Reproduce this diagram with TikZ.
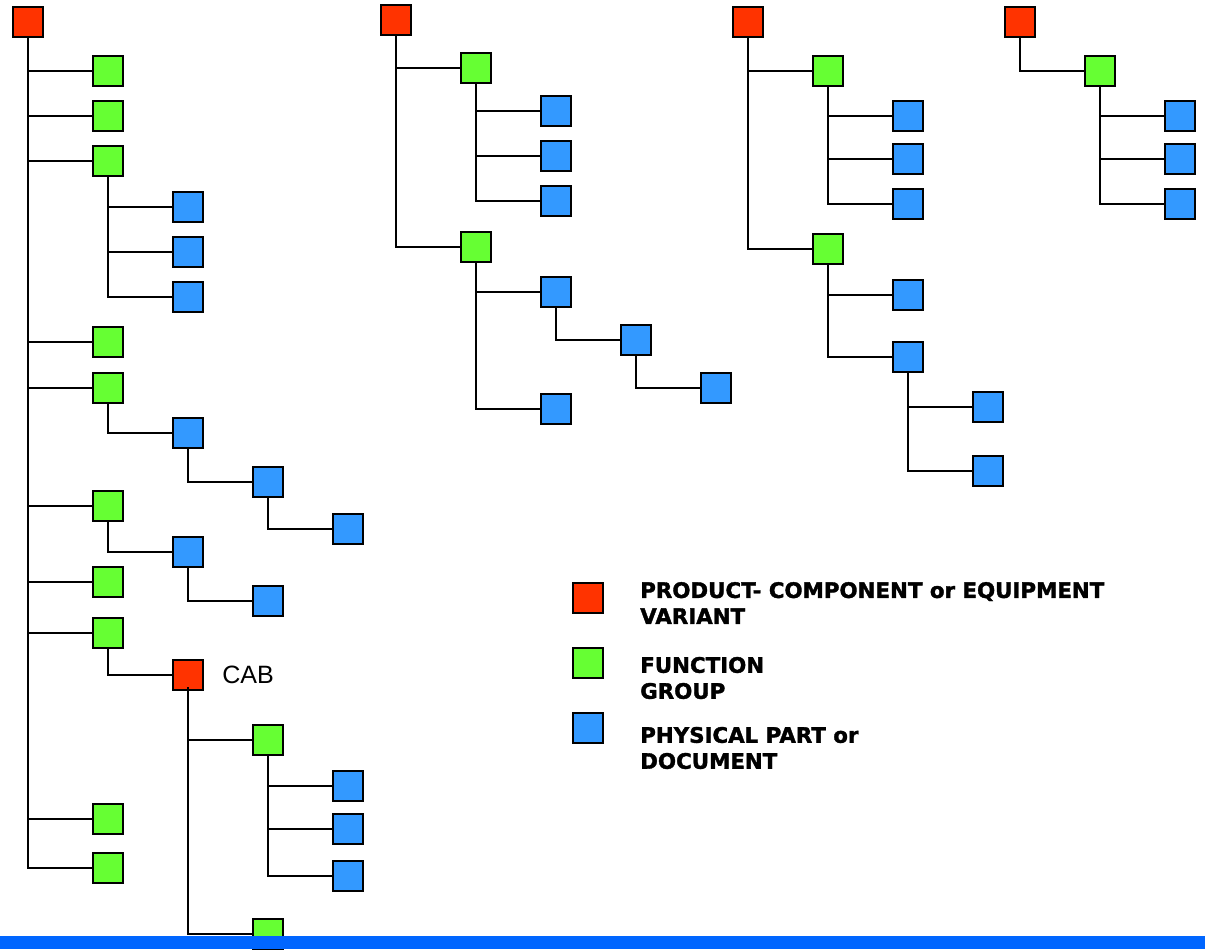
\documentclass[tikz,border=0pt]{standalone}
\usepackage{fontspec}
\setmainfont{Liberation Sans}
\newfontfamily\legendfont{DejaVu Sans}[BoldFeatures={FakeBold=1.6}]
\usetikzlibrary{positioning}
\definecolor{varred}{HTML}{FF3300}
\definecolor{grpgreen}{HTML}{66FF33}
\definecolor{partblue}{HTML}{3399FF}
\definecolor{barblue}{HTML}{0066FF}
\tikzset{
	box/.style={draw=black, line width=1.4pt, minimum size=22.6pt, inner sep=0pt},
	variantbox/.style={box, fill=varred},
	groupbox/.style={box, fill=grpgreen},
	partbox/.style={box, fill=partblue},
	legendtext/.style={anchor=west, inner sep=0pt, align=left, font=\legendfont\bfseries\fontsize{16}{19.5}\selectfont},
}
\begin{document}
\begin{tikzpicture}[x=0.75pt, y=-0.75pt]
	\useasboundingbox (0,0) rectangle (1205,949);
	% first tree
	\node[variantbox] (r1) at (28,22) {};
	\node[groupbox] (g11) at (108,71) {};
	\node[groupbox] (g12) at (108,116) {};
	\node[groupbox] (g13) at (108,161) {};
	\node[groupbox] (g14) at (108,342) {};
	\node[groupbox] (g15) at (108,388) {};
	\node[groupbox] (g16) at (108,506) {};
	\node[groupbox] (g17) at (108,582) {};
	\node[groupbox] (g18) at (108,633) {};
	\node[groupbox] (g19) at (108,819) {};
	\node[groupbox] (g110) at (108,868) {};
	\node[partbox] (b131) at (188,207) {};
	\node[partbox] (b132) at (188,252) {};
	\node[partbox] (b133) at (188,297) {};
	\node[partbox] (b151) at (188,433) {};
	\node[partbox] (b152) at (268,482) {};
	\node[partbox] (b153) at (348,529) {};
	\node[partbox] (b161) at (188,552) {};
	\node[partbox] (b162) at (268,601) {};
	\node[variantbox] (cab) at (188,675) {};
	\node[anchor=west, inner sep=0pt, font=\fontsize{18.8}{22}\selectfont] (cablabel) at (222,675) {CAB};
	\node[groupbox] (gc1) at (268,740) {};
	\node[groupbox] (gc2) at (268,934) {};
	\node[partbox] (bc1) at (348,786) {};
	\node[partbox] (bc2) at (348,829) {};
	\node[partbox] (bc3) at (348,876) {};
	% second tree
	\node[variantbox] (r2) at (396,20) {};
	\node[groupbox] (g21) at (476,68) {};
	\node[groupbox] (g22) at (476,247) {};
	\node[partbox] (b211) at (556,111) {};
	\node[partbox] (b212) at (556,156) {};
	\node[partbox] (b213) at (556,201) {};
	\node[partbox] (b221) at (556,292) {};
	\node[partbox] (b222) at (636,340) {};
	\node[partbox] (b223) at (716,388) {};
	\node[partbox] (b224) at (556,409) {};
	% third tree
	\node[variantbox] (r3) at (748,22) {};
	\node[groupbox] (g31) at (828,71) {};
	\node[groupbox] (g32) at (828,249) {};
	\node[partbox] (b311) at (908,116) {};
	\node[partbox] (b312) at (908,159) {};
	\node[partbox] (b313) at (908,204) {};
	\node[partbox] (b321) at (908,295) {};
	\node[partbox] (b322) at (908,357) {};
	\node[partbox] (b3221) at (988,407) {};
	\node[partbox] (b3222) at (988,471) {};
	% fourth tree
	\node[variantbox] (r4) at (1020,22) {};
	\node[groupbox] (g41) at (1100,71) {};
	\node[partbox] (b411) at (1180,116) {};
	\node[partbox] (b412) at (1180,159) {};
	\node[partbox] (b413) at (1180,204) {};
	% legend
	\node[variantbox] (l1) at (588,598) {};
	\node[groupbox] (l2) at (588,663) {};
	\node[partbox] (l3) at (588,728) {};
	\node[legendtext] (t1) at (640,603) {PRODUCT- COMPONENT or EQUIPMENT\\VARIANT};
	\node[legendtext] (t2) at (640,678) {FUNCTION\\GROUP};
	\node[legendtext] (t3) at (640,748) {PHYSICAL PART or\\DOCUMENT};
	% connectors
	\begin{scope}[every path/.style={draw=black, line width=1.2pt}]
		\foreach \g in {g11,g12,g13,g14,g15,g16,g17,g18,g19,g110}
			\path (r1.south) |- (\g.west);
		\foreach \b in {b131,b132,b133}
			\path (g13.south) |- (\b.west);
		\path (g15.south) |- (b151.west);
		\path (b151.south) |- (b152.west);
		\path (b152.south) |- (b153.west);
		\path (g16.south) |- (b161.west);
		\path (b161.south) |- (b162.west);
		\path (g18.south) |- (cab.west);
		\path ([yshift=-9pt]cab.center) |- (gc1.west);
		\path ([yshift=-9pt]cab.center) |- (gc2.west);
		\foreach \b in {bc1,bc2,bc3}
			\path (gc1.south) |- (\b.west);
		\foreach \g in {g21,g22}
			\path (r2.south) |- (\g.west);
		\foreach \b in {b211,b212,b213}
			\path (g21.south) |- (\b.west);
		\foreach \b in {b221,b224}
			\path (g22.south) |- (\b.west);
		\path (b221.south) |- (b222.west);
		\path (b222.south) |- (b223.west);
		\foreach \g in {g31,g32}
			\path (r3.south) |- (\g.west);
		\foreach \b in {b311,b312,b313}
			\path (g31.south) |- (\b.west);
		\foreach \b in {b321,b322}
			\path (g32.south) |- (\b.west);
		\foreach \b in {b3221,b3222}
			\path (b322.south) |- (\b.west);
		\path (r4.south) |- (g41.west);
		\foreach \b in {b411,b412,b413}
			\path (g41.south) |- (\b.west);
	\end{scope}
	% bottom bar
	\fill[barblue] (0,936) rectangle (1205,949);
\end{tikzpicture}
\end{document}
